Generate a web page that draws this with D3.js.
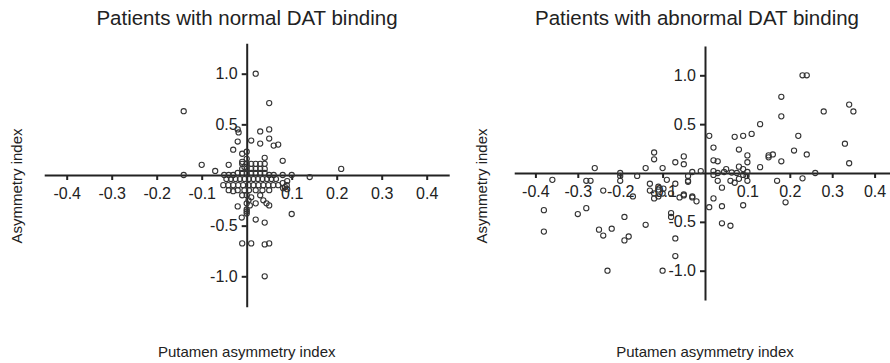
<!DOCTYPE html>
<html>
<head>
<meta charset="utf-8">
<script src="https://cdn.jsdelivr.net/npm/d3@7"></script>
<style>
  body { margin: 0; background: #fff; }
  svg { display: block; font-family: "Liberation Sans", Arial, sans-serif; }
  .axis path, .axis line { stroke: #222; stroke-width: 2px; }
  .axis text { fill: #222; font-size: 16px; }
  .dot { fill: none; stroke: #333; stroke-width: 1.1px; }
  .title { fill: #222; font-size: 20.5px; text-anchor: middle; }
  .axis-title { fill: #222; font-size: 15px; text-anchor: middle; }
</style>
</head>
<body>
<div id="main"></div>
<script>
const X_TICKS = [-0.4, -0.3, -0.2, -0.1, 0.1, 0.2, 0.3, 0.4];
const Y_TICKS = [-1.0, -0.5, 0.5, 1.0];
const TITLES = ["Patients with normal DAT binding", "Patients with abnormal DAT binding"];
const X_LABEL = "Putamen asymmetry index";
const Y_LABEL = "Asymmetry index";

// [putamen asymmetry, asymmetry index]
const normalPoints = [
  [0.02, 1.0], [0.05, 0.71], [-0.14, 0.63], [-0.02, 0.45], [-0.018, 0.42], [0.03, 0.43],
  [0.05, 0.45], [0.05, 0.36], [0.03, 0.31], [0.01, 0.34], [-0.02, 0.33], [0.06, 0.29],
  [0.07, 0.30], [-0.03, 0.25], [-0.01, 0.21], [0.0, 0.23], [0.04, 0.17], [0.08, 0.14],
  [-0.01, 0.13], [-0.04, 0.10], [-0.07, 0.04], [-0.10, 0.10], [0.21, 0.06], [0.0, 0.16],
  [-0.01, 0.11], [0.0, 0.11], [0.01, 0.11], [0.02, 0.11], [0.03, 0.11], [0.04, 0.11],
  [-0.01, 0.06], [0.0, 0.06], [0.01, 0.06], [0.02, 0.06], [0.03, 0.06], [0.04, 0.06],
  [-0.02, 0.02], [-0.01, 0.02], [0.0, 0.02], [0.01, 0.02], [0.02, 0.02], [0.03, 0.02],
  [0.04, 0.02], [-0.005, 0.08],
  [-0.14, 0.0], [-0.05, 0.0], [-0.04, 0.0], [-0.03, 0.0], [0.05, 0.0], [0.06, 0.0],
  [0.08, 0.0], [0.10, 0.0], [0.14, -0.02],
  [-0.045, -0.04], [-0.035, -0.04], [-0.025, -0.04], [-0.015, -0.04], [-0.005, -0.04], [0.005, -0.04],
  [0.015, -0.04], [0.025, -0.04], [0.035, -0.04], [0.045, -0.04], [0.055, -0.04], [0.065, -0.04],
  [-0.052, -0.1], [-0.041, -0.1], [-0.03, -0.1], [-0.019, -0.1], [-0.008, -0.1], [0.004, -0.1],
  [0.015, -0.1], [0.026, -0.1], [0.037, -0.1], [0.048, -0.1], [0.059, -0.1], [0.07, -0.1],
  [-0.04, -0.15], [-0.03, -0.16], [-0.02, -0.15], [-0.005, -0.15], [0.005, -0.15], [0.02, -0.15],
  [0.035, -0.15], [0.05, -0.15], [-0.01, -0.2], [0.0, -0.2], [0.03, -0.2], [0.01, -0.22],
  [-0.02, -0.31], [0.004, -0.25], [0.037, -0.25], [0.044, -0.28], [0.0, -0.28], [0.007, -0.30],
  [0.02, -0.28], [0.05, -0.30], [0.081, -0.13], [0.089, -0.10], [0.08, -0.08], [0.09, -0.06],
  [0.085, -0.12], [0.09, -0.14], [0.0, -0.34], [0.0, -0.36], [0.0, -0.38], [0.1, -0.385],
  [-0.011, -0.42], [0.02, -0.44], [0.04, -0.47], [-0.01, -0.675], [0.01, -0.675], [0.04, -0.685],
  [0.05, -0.675], [0.04, -1.0]
];

const abnormalPoints = [
  [0.23, 1.0], [0.24, 1.0], [0.18, 0.78], [0.18, 0.58], [0.28, 0.63], [0.34, 0.70],
  [0.35, 0.63], [0.13, 0.50], [0.11, 0.40], [0.09, 0.38], [0.07, 0.37], [0.01, 0.38],
  [0.02, 0.26], [0.08, 0.24], [0.10, 0.18], [0.15, 0.16], [0.15, 0.18], [0.16, 0.19],
  [0.21, 0.23], [0.22, 0.38], [0.24, 0.19], [0.33, 0.30], [0.34, 0.10], [0.18, 0.12],
  [0.13, 0.06], [0.10, 0.11], [0.02, 0.13], [0.03, 0.12], [0.08, 0.065], [0.05, 0.04],
  [0.02, 0.02], [-0.01, 0.02], [-0.03, 0.01], [-0.05, 0.17], [-0.05, 0.09], [0.26, 0.0],
  [0.045, 0.01], [0.09, 0.04], [0.10, 0.01], [0.02, -0.02], [0.03, 0.0], [0.063, 0.005],
  [0.075, 0.0], [0.098, -0.03], [0.08, -0.06], [0.09, -0.02],
  [0.23, -0.055], [0.17, -0.08], [0.19, -0.30], [0.09, -0.33], [0.10, -0.08], [0.07, -0.10],
  [0.06, -0.08], [0.04, -0.15], [0.03, -0.08], [-0.04, -0.08], [-0.04, -0.03], [-0.05, -0.23],
  [-0.03, -0.25], [-0.02, -0.29], [0.02, -0.26], [0.04, -0.34], [0.01, -0.35], [0.04, -0.515],
  [0.06, -0.54],
  [-0.26, 0.05], [-0.36, -0.07], [-0.28, -0.08], [-0.27, -0.08], [-0.2, 0.0], [-0.2, -0.03],
  [-0.2, -0.08], [-0.24, -0.18], [-0.17, -0.24], [-0.16, -0.03], [-0.14, 0.05], [-0.12, 0.21],
  [-0.12, 0.14], [-0.10, 0.05], [-0.07, 0.11], [-0.09, -0.07], [-0.13, -0.11], [-0.12, -0.21],
  [-0.13, -0.18], [-0.11, -0.14], [-0.10, -0.21], [-0.11, -0.24], [-0.12, -0.26], [-0.08, -0.21],
  [-0.07, -0.11], [-0.06, -0.25], [-0.05, -0.22], [-0.04, -0.09], [-0.03, -0.24], [-0.11, -0.17],
  [-0.098, -0.16],
  [-0.38, -0.38], [-0.38, -0.6], [-0.3, -0.42], [-0.28, -0.36], [-0.25, -0.58], [-0.24, -0.64],
  [-0.22, -0.57], [-0.19, -0.45], [-0.19, -0.69], [-0.18, -0.65], [-0.23, -1.0], [-0.14, -0.53],
  [-0.10, -1.0], [-0.07, -0.85], [-0.07, -0.67], [-0.08, -0.41], [-0.08, -0.45]
];

const WIDTH = 890;
const HEIGHT = 363;

const svg = d3.select("#main")
  .append("svg")
  .attr("width", WIDTH)
  .attr("height", HEIGHT);

// panel layout: origin position and pixels per unit
const panels = [
  { points: normalPoints, title: TITLES[0], cx: 246.7, cy: 175, kx: 450, ky: 101.3, titleX: 247, yLabelX: 17 },
  { points: abnormalPoints, title: TITLES[1], cx: 705, cy: 173, kx: 424, ky: 97.7, titleX: 697, yLabelX: 482 }
];

// plain hyphen for negatives, like the original figure
const fmt = (v) => v.toFixed(1);

panels.forEach((p) => {
  const x = d3.scaleLinear().domain([-0.45, 0.45]).range([p.cx - 0.45 * p.kx, p.cx + 0.45 * p.kx]);
  const y = d3.scaleLinear().domain([-1.3, 1.3]).range([p.cy + 1.3 * p.ky, p.cy - 1.3 * p.ky]);

  const g = svg.append("g");

  g.append("g")
    .attr("class", "axis")
    .attr("transform", `translate(0,${y(0)})`)
    .call(d3.axisBottom(x).tickValues(X_TICKS).tickFormat(fmt).tickSize(5).tickSizeOuter(0).tickPadding(7.5));

  g.append("g")
    .attr("class", "axis")
    .attr("transform", `translate(${x(0)},0)`)
    .call(d3.axisLeft(y).tickValues(Y_TICKS).tickFormat(fmt).tickSize(5).tickSizeOuter(0).tickPadding(4));

  g.selectAll(".axis").attr("font-family", null).attr("font-size", null);

  g.append("g")
    .selectAll("circle")
    .data(p.points)
    .join("circle")
    .attr("class", "dot")
    .attr("cx", (d) => x(d[0]))
    .attr("cy", (d) => y(d[1]))
    .attr("r", 2.6);

  g.append("text")
    .attr("class", "title")
    .attr("x", p.titleX)
    .attr("y", 25)
    .text(p.title);

  g.append("text")
    .attr("class", "axis-title")
    .attr("transform", `translate(${p.yLabelX + 5},${186}) rotate(-90)`)
    .text(Y_LABEL);

  g.append("text")
    .attr("class", "axis-title")
    .attr("x", x(0))
    .attr("y", 357)
    .text(X_LABEL);
});
</script>
</body>
</html>
